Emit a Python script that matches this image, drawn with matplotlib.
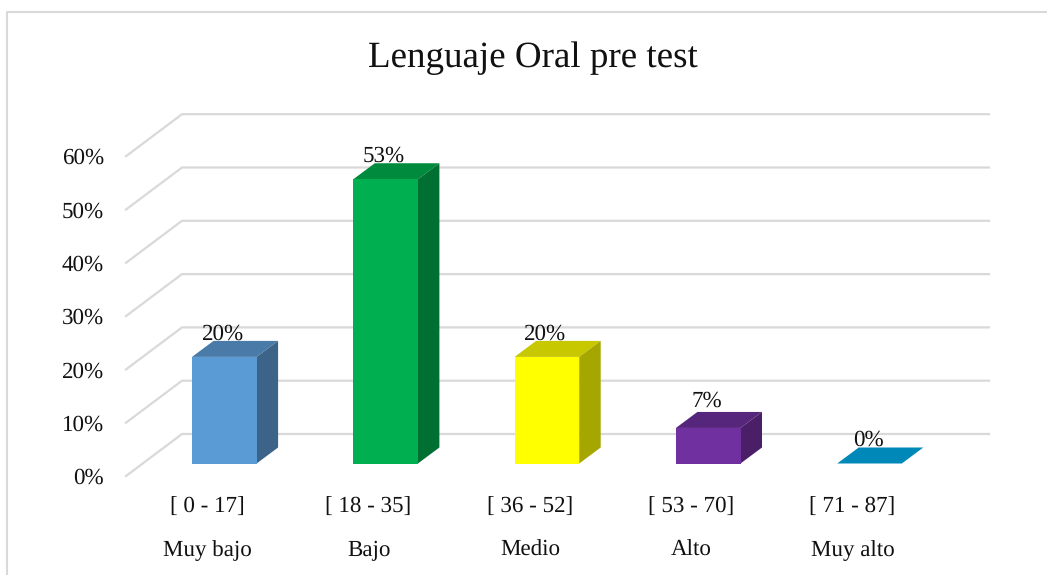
import matplotlib
matplotlib.use("Agg")
import matplotlib.pyplot as plt
from matplotlib.patches import Polygon
from matplotlib.lines import Line2D

title = "Lenguaje Oral pre test"
ranges = ["[ 0 - 17]", "[ 18 - 35]", "[ 36 - 52]", "[ 53 - 70]", "[ 71 - 87]"]
levels = ["Muy bajo", "Bajo", "Medio", "Alto", "Muy alto"]
values = [20.0, 53.33, 20.0, 6.67, 0.0]
labels = ["20%", "53%", "20%", "7%", "0%"]
yticks = [0, 10, 20, 30, 40, 50, 60]

front_colors = ["#5B9BD5", "#00B050", "#FFFF00", "#7030A0", "#0088B8"]
top_colors = ["#4A7BA8", "#008A3E", "#C8C800", "#55267B", "#0088B8"]
side_colors = ["#3B6488", "#006F32", "#A6A600", "#4A1F68", "#0088B8"]

W, H = 1047, 575
PX_PER_PCT = 5.33
PX_PER_CAT = 161.3
X0_PX, Y0_PX = 224.3, 463.5   # pixel position of category 0 / value 0
BAR_W = 64.6 / PX_PER_CAT
DX, DY = 21.5 / PX_PER_CAT, 16.0 / PX_PER_PCT

plt.rcParams["font.family"] = ["Liberation Serif", "DejaVu Serif"]
plt.rcParams["text.hinting"] = "none"
plt.rcParams["text.hinting_factor"] = 1
fig = plt.figure(figsize=(W / 100, H / 100), dpi=100)
ax = fig.add_axes([0, 0, 1, 1])
ax.set_xlim(-X0_PX / PX_PER_CAT, (W - X0_PX) / PX_PER_CAT)
ax.set_ylim((Y0_PX - H) / PX_PER_PCT, Y0_PX / PX_PER_PCT)
ax.axis("off")

def xp(px):
    return (px - X0_PX) / PX_PER_CAT

def yp(py):
    return (Y0_PX - py) / PX_PER_PCT

GRID = "#D9D9D9"
TEXT = "#111111"
# outer border (left and top only; the picture is cropped on the other sides)
fig.add_artist(Line2D([7 / W, 7 / W, 1], [0, 1 - 11.5 / H, 1 - 11.5 / H],
                      transform=fig.transFigure, color="#D9D9D9", lw=1.5))

# walls: gridlines with the diagonal return on the side wall
front_off = (Y0_PX - 476) / PX_PER_PCT
back_off = (Y0_PX - 434) / PX_PER_PCT
for t in yticks:
    ax.plot([xp(126), xp(182), xp(989)],
            [t + front_off, t + back_off, t + back_off],
            color=GRID, lw=1.6, zorder=1, solid_joinstyle="miter")
    ax.text(xp(104), t + yp(484), f"{t}%", ha="right", va="baseline",
            fontsize=16.5, color=TEXT)

# bars
for i, v in enumerate(values):
    l, r = i - BAR_W / 2, i + BAR_W / 2
    ax.add_patch(Polygon([(l, v), (r, v), (r + DX, v + DY), (l + DX, v + DY)],
                         facecolor=top_colors[i], edgecolor="none", zorder=3))
    if v > 0:
        ax.add_patch(Polygon([(r, 0), (r + DX, DY), (r + DX, v + DY), (r, v)],
                             facecolor=side_colors[i], edgecolor="none", zorder=3))
        ax.add_patch(Polygon([(l, 0), (r, 0), (r, v), (l, v)],
                             facecolor=front_colors[i], edgecolor="none", zorder=4))
    extra = 5 / PX_PER_PCT if labels[i] == "7%" else 1.5 / PX_PER_PCT
    ax.text(i - 1.5 / PX_PER_CAT, v + DY + extra, labels[i], ha="center", va="baseline",
            fontsize=16.5, color=TEXT, zorder=5)
    ax.text(i - 17 / PX_PER_CAT, yp(513), ranges[i], ha="center", va="baseline",
            fontsize=16.8, color=TEXT)
    ax.text(i - 17 / PX_PER_CAT, yp(556), levels[i], ha="center", va="baseline",
            fontsize=16.8, color=TEXT)

ax.text(xp(532.5), yp(67), title, ha="center", va="baseline", fontsize=26.9, color=TEXT)

fig.savefig("out.png", dpi=100)
